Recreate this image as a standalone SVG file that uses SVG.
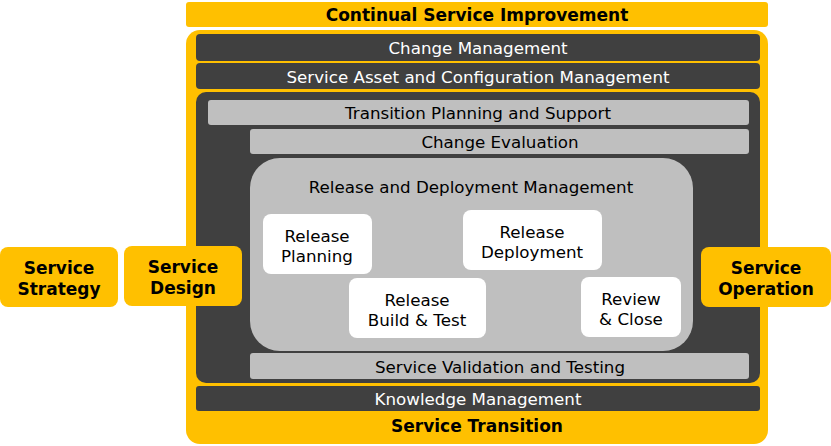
<svg xmlns="http://www.w3.org/2000/svg" width="831" height="446" viewBox="0 0 831 446">
<style>
.y{fill:#FFC000}
.d{fill:#404040}
.g{fill:#BFBFBF}
.w{fill:#FFFFFF}
text{font-family:"DejaVu Sans",Verdana,sans-serif;font-size:16.7px;text-anchor:middle}
.tw{fill:#FFFFFF}
.tb{fill:#000000}
.b{font-weight:bold;font-size:17px}
</style>
<rect width="831" height="446" fill="#FFFFFF"/>
<g id="csi"><rect class="y" x="186" y="2" width="582" height="25" rx="3"/><text class="tb b" x="477" y="21">Continual Service Improvement</text></g>
<g id="service-transition"><rect class="y" x="186" y="30" width="582" height="414" rx="14"/><text class="tb b" x="477" y="432">Service Transition</text></g>
<g id="change-management"><rect class="d" x="196" y="34" width="564" height="27" rx="4"/><text class="tw" x="478" y="54">Change Management</text></g>
<g id="sacm"><rect class="d" x="196" y="63" width="564" height="26" rx="4"/><text class="tw" x="478" y="83">Service Asset and Configuration Management</text></g>
<g id="inner"><rect class="d" x="196" y="92" width="564" height="291" rx="10"/></g>
<g id="transition-planning"><rect class="g" x="208" y="100" width="541" height="25" rx="3"/><text class="tb" x="478" y="119">Transition Planning and Support</text></g>
<g id="change-evaluation"><rect class="g" x="250" y="129" width="499" height="25" rx="3"/><text class="tb" x="500" y="148">Change Evaluation</text></g>
<g id="rdm"><rect class="g" x="250" y="158" width="443" height="193" rx="30"/><text class="tb" x="471" y="193">Release and Deployment Management</text></g>
<g id="release-planning"><rect class="w" x="263" y="214" width="109" height="60" rx="8"/><text class="tb" x="317" y="242">Release</text><text class="tb" x="317" y="262">Planning</text></g>
<g id="release-deployment"><rect class="w" x="463" y="210" width="139" height="60" rx="8"/><text class="tb" x="532" y="238">Release</text><text class="tb" x="532" y="258">Deployment</text></g>
<g id="release-build"><rect class="w" x="349" y="278" width="137" height="60" rx="8"/><text class="tb" x="417" y="306">Release</text><text class="tb" x="417" y="326">Build &amp; Test</text></g>
<g id="review-close"><rect class="w" x="581" y="277" width="100" height="60" rx="8"/><text class="tb" x="631" y="305">Review</text><text class="tb" x="631" y="325">&amp; Close</text></g>
<g id="svt"><rect class="g" x="250" y="353" width="499" height="26" rx="3"/><text class="tb" x="500" y="373">Service Validation and Testing</text></g>
<g id="knowledge-management"><rect class="d" x="196" y="386" width="564" height="25" rx="3"/><text class="tw" x="478" y="405">Knowledge Management</text></g>
<g id="service-strategy"><rect class="y" x="0" y="247" width="118" height="60" rx="8"/><text class="tb b" x="59" y="274">Service</text><text class="tb b" x="59" y="295">Strategy</text></g>
<g id="service-design"><rect class="y" x="124" y="246" width="118" height="60" rx="8"/><text class="tb b" x="183" y="273">Service</text><text class="tb b" x="183" y="294">Design</text></g>
<g id="service-operation"><rect class="y" x="701" y="247" width="130" height="60" rx="8"/><text class="tb b" x="766" y="274">Service</text><text class="tb b" x="766" y="295">Operation</text></g>
<g id="connectors"></g>
</svg>
